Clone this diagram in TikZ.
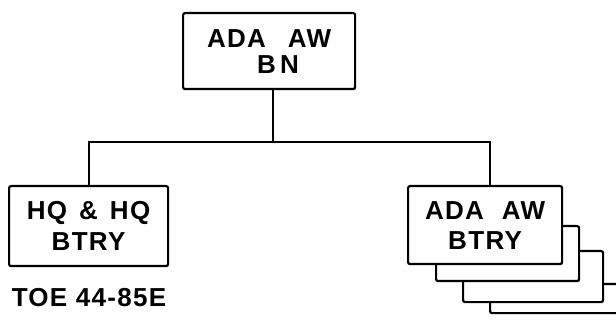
\documentclass[tikz,border=0pt]{standalone}
\usepackage{fontspec}
\setmainfont{Liberation Sans}[LetterSpace=5]
\begin{document}
\begin{tikzpicture}[x=1pt,y=-1pt,
  box/.style={draw=black, line width=2.2pt, fill=white, rounded corners=2pt,
    inner sep=0pt, align=center, font=\fontsize{26}{30}\selectfont\bfseries},
  lbl/.style={inner sep=0pt, font=\fontsize{26}{30}\selectfont\bfseries},
  conn/.style={draw=black, line width=2.2pt}]
\useasboundingbox (0,0) rectangle (616,323);
% stacked battery boxes (back to front)
\node[box, minimum width=200pt, minimum height=29pt, anchor=north west] (b4) at (489,283) {};
\node[box, minimum width=140pt, minimum height=51pt, anchor=north west] (b3) at (462,250) {};
\node[box, minimum width=143pt, minimum height=55pt, anchor=north west] (b2) at (435,225) {};
\node[box, minimum width=154pt, minimum height=78pt, anchor=north west, font=\fontsize{26}{30}\selectfont\bfseries] (bat) at (407,185) {ADA\hspace{18pt}AW\\BTRY};
% top box
\node[box, minimum width=172pt, minimum height=76pt, anchor=north west, font=\fontsize{26}{26}\selectfont\bfseries] (top) at (182,12) {ADA\hspace{22pt}AW\\\hspace{18pt}B\,N};
% HQ box
\node[box, minimum width=159pt, minimum height=80pt, anchor=north west, font=\fontsize{26}{31}\selectfont\bfseries] (hq) at (8,185) {HQ\hspace{12pt}\&\hspace{12pt}HQ\\BTRY};
\node[lbl] (toe) at (89,298) {TOE 44-85E};
% connectors
\coordinate (bus) at (0,142);
\draw[conn] (top.south -| 273,0) -- (273,142);
\draw[conn] (hq.north) -- (hq.north |- bus) -- (490,142) -- (490,185);
\end{tikzpicture}
\end{document}
